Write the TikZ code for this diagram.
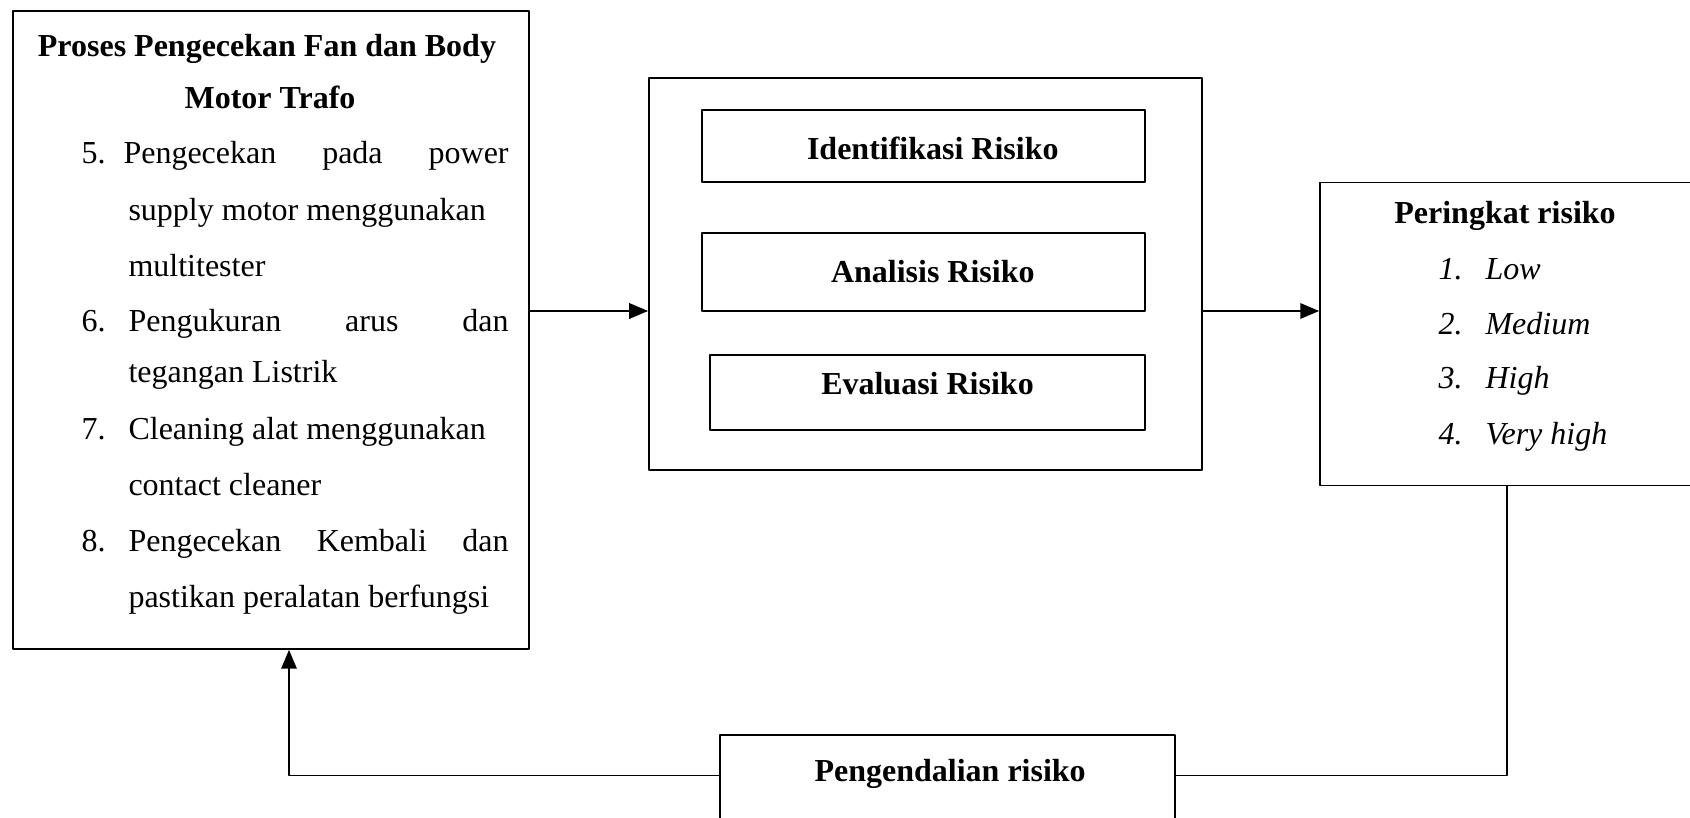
\documentclass[tikz,border=0pt]{standalone}
\usepackage{fontspec}
\setmainfont{Liberation Serif}
\usetikzlibrary{arrows}

\tikzset{
	box/.style={draw,line width=0.7pt,rectangle,inner sep=0pt},
	txt/.style={inner sep=0pt,text height=9pt,text depth=3pt,anchor=west},
	link/.style={line width=0.6pt},
}
\newcommand{\spread}[2]{\makebox[#1][s]{#2}}

\begin{document}
\begin{tikzpicture}[line cap=round,line join=round,>=triangle 45,x=0.375pt,y=-0.375pt,font=\fontsize{12pt}{14pt}\selectfont]
		\useasboundingbox (0,0) rectangle (1690,818);
		\clip (0,0) rectangle (1690,818);
		%%%%%%%%%%%%%%% B O X E S %%%%%%%%%%%%%%%%
		%proses
		\node[box,minimum width=193.5pt,minimum height=239.25pt] (proses) at (271,330) {};
		%penilaian risiko
		\node[box,minimum width=207.4pt,minimum height=147pt] (penilaian) at (925.5,274) {};
		\node[box,minimum width=166.1pt,minimum height=27pt,text height=10pt] (identifikasi) at (923.5,146) {\hspace*{7pt}\textbf{Identifikasi Risiko}};
		\node[box,minimum width=166.1pt,minimum height=29.25pt] (analisis) at (923.5,272) {\hspace*{7pt}\textbf{Analisis Risiko}};
		\node[box,minimum width=163.1pt,minimum height=28.1pt,text depth=7pt] (evaluasi) at (927.5,392.5) {\textbf{Evaluasi Risiko}};
		%peringkat
		\node[box,minimum width=140.25pt,minimum height=113.6pt] (peringkat) at (1507,334) {};
		%pengendalian
		\node[box,anchor=north,minimum width=170.6pt,text height=12.5pt,text depth=40pt,inner ysep=5pt] (pengendalian) at (947.5,734) {\hspace*{2pt}\textbf{Pengendalian risiko}};
		%%%%%%%%%%%%%%% T E X T S %%%%%%%%%%%%%%%%
		%proses
		\node[txt,anchor=center] (judul1) at (267,49) {\textbf{Proses Pengecekan Fan dan Body}};
		\node[txt,anchor=center] (judul2) at (270,101) {\textbf{Motor Trafo}};
		\node[txt] (no5) at (81,156) {5.};
		\node[txt] (item5a) at (123,156) {\spread{144.4pt}{Pengecekan pada power}};
		\node[txt] (item5b) at (128,213) {supply motor menggunakan};
		\node[txt] (item5c) at (128,269) {multitester};
		\node[txt] (no6) at (81,324) {6.};
		\node[txt] (item6a) at (128,324) {\spread{142.5pt}{Pengukuran arus dan}};
		\node[txt] (item6b) at (128,375) {tegangan Listrik};
		\node[txt] (no7) at (81,432) {7.};
		\node[txt] (item7a) at (128,432) {Cleaning alat menggunakan};
		\node[txt] (item7b) at (128,488) {contact cleaner};
		\node[txt] (no8) at (81,544) {8.};
		\node[txt] (item8a) at (128,544) {\spread{142.5pt}{Pengecekan Kembali dan}};
		\node[txt] (item8b) at (128,599) {pastikan peralatan berfungsi};
		%peringkat
		\node[txt,anchor=center] (judul3) at (1505,216) {\textbf{Peringkat risiko}};
		\foreach \n/\lvl/\y in {1/Low/272,2/Medium/327,3/High/381,4/Very high/437} {
			\node[txt] (rk\n) at (1438,\y) {\textit{\n.}};
			\node[txt] (lvl\n) at (1485,\y) {\textit{\lvl}};
		}
		%%%%%%%%%%%%%%% A R R O W S %%%%%%%%%%%%%%%%
		\coordinate (baris) at (0,311);
		\coordinate (balik) at (289,0);
		\draw [->,link] (proses.east |- baris) -- (penilaian.west |- baris);
		\draw [->,link] (penilaian.east |- baris) -- (peringkat.west |- baris);
		\draw [link] (peringkat.south) |- (pengendalian.mid east);
		\draw [->,link] (pengendalian.mid west) -| (balik |- proses.south);
	\end{tikzpicture}
\end{document}
